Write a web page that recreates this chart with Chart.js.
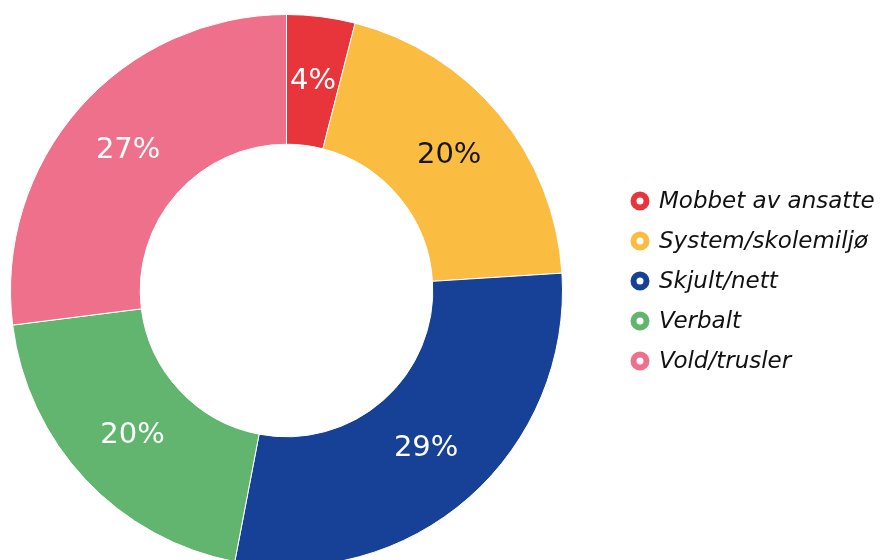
<!DOCTYPE html>
<html>
<head>
<meta charset="utf-8">
<script src="https://cdn.jsdelivr.net/npm/chart.js@4"></script>
<style>
  html, body { margin: 0; padding: 0; background: #fff; overflow: hidden; }
  #wrap { width: 883px; height: 580px; position: relative; }
</style>
</head>
<body>
<div id="wrap"><canvas id="chart" width="883" height="580"></canvas></div>
<script>
const categories = ['Mobbet av ansatte', 'System/skolemiljø', 'Skjult/nett', 'Verbalt', 'Vold/trusler'];
const shares = [4, 20, 29, 20, 27];
const sliceColors = ['#E8353B', '#FBBC42', '#174197', '#62B56F', '#EE708B'];
const labelColors = ['#ffffff', '#151515', '#ffffff', '#ffffff', '#ffffff'];

const sliceLabels = {
  id: 'sliceLabels',
  afterDatasetsDraw(c) {
    const { ctx } = c;
    const meta = c.getDatasetMeta(0);
    ctx.save();
    ctx.font = '29px "DejaVu Sans"';
    ctx.textAlign = 'center';
    ctx.textBaseline = 'middle';
    meta.data.forEach((arc, i) => {
      const p = arc.tooltipPosition();
      ctx.fillStyle = labelColors[i];
      ctx.fillText(shares[i] + '%', p.x, p.y);
    });
    ctx.restore();
  }
};

const sideLegend = {
  id: 'sideLegend',
  afterDraw(c) {
    const { ctx } = c;
    const x0 = 640, y0 = 201, step = 40;
    ctx.save();
    ctx.font = 'italic 23px "DejaVu Sans"';
    ctx.textBaseline = 'middle';
    categories.forEach((name, i) => {
      const y = y0 + i * step;
      ctx.beginPath();
      ctx.arc(x0, y, 6.5, 0, Math.PI * 2);
      ctx.lineWidth = 6;
      ctx.strokeStyle = sliceColors[i];
      ctx.fillStyle = '#fff';
      ctx.fill();
      ctx.stroke();
      ctx.fillStyle = '#111';
      ctx.fillText(name, x0 + 19, y + 1);
    });
    ctx.restore();
  }
};

new Chart(document.getElementById('chart'), {
  type: 'doughnut',
  data: {
    labels: categories,
    datasets: [{
      data: shares,
      backgroundColor: sliceColors,
      borderColor: '#ffffff',
      borderWidth: 1
    }]
  },
  options: {
    responsive: false,
    animation: false,
    cutout: '53%',
    layout: { padding: { left: 10, top: 14, right: 320, bottom: 13 } },
    plugins: {
      legend: { display: false },
      tooltip: { enabled: false }
    }
  },
  plugins: [sliceLabels, sideLegend]
});
</script>
</body>
</html>
